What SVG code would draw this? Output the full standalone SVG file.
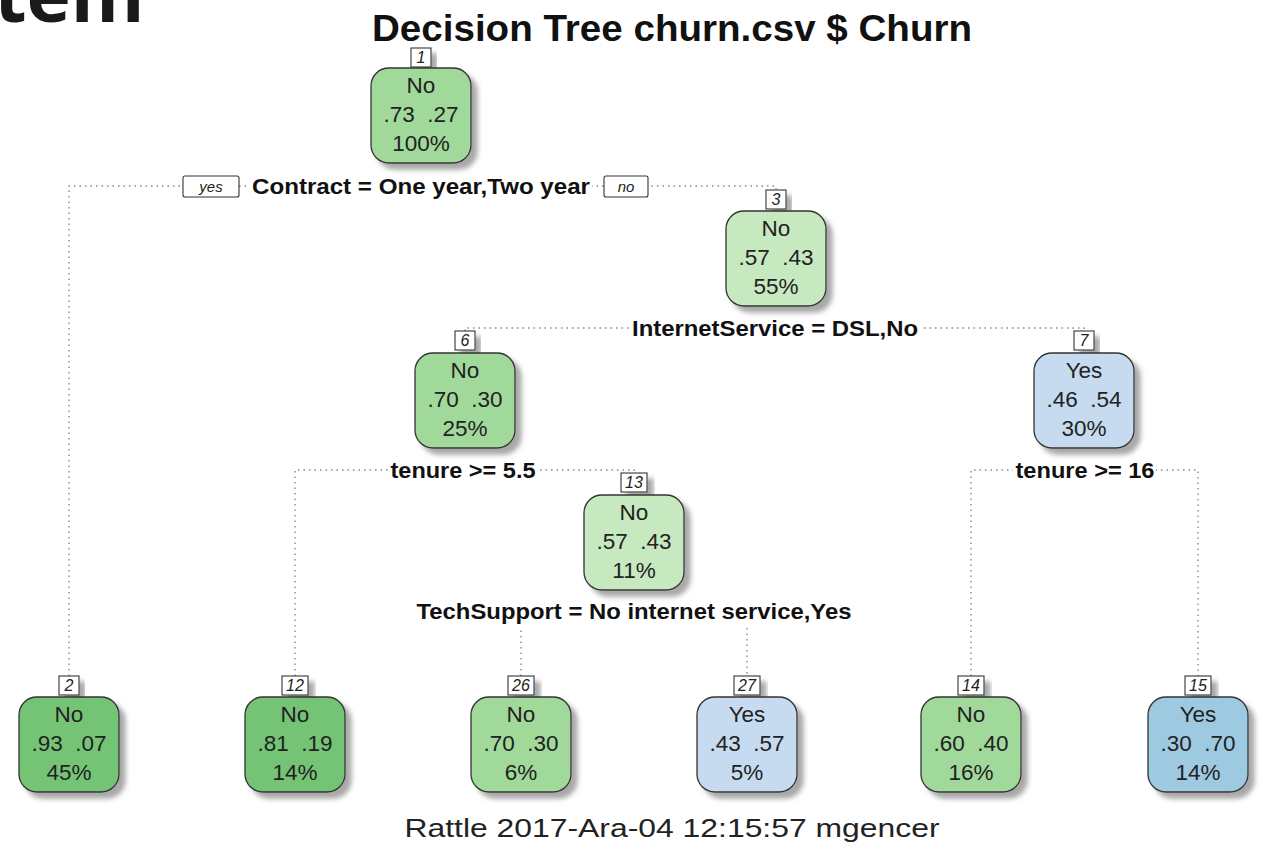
<svg xmlns="http://www.w3.org/2000/svg" width="1265" height="845" viewBox="0 0 1265 845">
<defs>
<filter id="sh" x="-20%" y="-20%" width="150%" height="150%">
<feDropShadow dx="6" dy="6" stdDeviation="2.5" flood-color="#8a8a8a" flood-opacity="0.75"/>
</filter>
<style>
.box{stroke:#333;stroke-width:1.3;filter:url(#sh)}
.lab{fill:#fff;stroke:#333;stroke-width:1.1;filter:url(#sh)}
.t{font-family:"Liberation Sans",Arial,sans-serif;font-size:22.5px;fill:#222;text-anchor:middle;white-space:pre}
.n{font-family:"Liberation Sans",Arial,sans-serif;font-style:italic;font-size:16px;fill:#222;text-anchor:middle}
.sp{font-family:"Liberation Sans",Arial,sans-serif;font-weight:bold;font-size:22px;fill:#111;text-anchor:middle}
.yn{font-family:"Liberation Sans",Arial,sans-serif;font-style:italic;font-size:15px;fill:#222;text-anchor:middle}
.ynb{fill:#fff;stroke:#333;stroke-width:1.1}
.edge{stroke:#888;stroke-width:1.4;stroke-dasharray:1.5 4;fill:none}
.bg{fill:#fff}
.g3{fill:#74c476}.g2{fill:#a1d99b}.g1{fill:#c7e9c0}.b1{fill:#c6dbef}.b2{fill:#9ecae1}
</style>
</defs>
<rect width="1265" height="845" fill="#fff"/>
<text x="-6" y="22" font-family="'Open Sans',sans-serif" font-weight="bold" font-size="75" fill="#1a1a1a">tem</text>
<text x="672" y="41" font-family="'Liberation Sans',Arial,sans-serif" font-weight="bold" font-size="37" fill="#111" text-anchor="middle" textLength="600" lengthAdjust="spacingAndGlyphs">Decision Tree churn.csv $ Churn</text>

<g id="connectors">
<path class="edge" d="M69,676 V186 H776 V189"/>
<path class="edge" d="M465,331 V328 H1084 V331"/>
<path class="edge" d="M295,676 V470 H634 V473"/>
<path class="edge" d="M971,676 V470 H1198 V676"/>
<path class="edge" d="M521,676 V611 H747 V676"/>
</g>

<g id="split-labels">
<rect class="bg" x="250" y="174" width="342" height="26"/>
<text class="sp" x="421" y="194" textLength="338" lengthAdjust="spacingAndGlyphs">Contract = One year,Two year</text>
<rect class="ynb" x="183" y="176" width="56" height="21" rx="2"/>
<text class="yn" x="211" y="192">yes</text>
<rect class="ynb" x="604" y="176" width="44" height="21" rx="2"/>
<text class="yn" x="626" y="192">no</text>
<rect class="bg" x="630" y="316" width="290" height="26"/>
<text class="sp" x="775" y="336" textLength="286" lengthAdjust="spacingAndGlyphs">InternetService = DSL,No</text>
<rect class="bg" x="388" y="458" width="149" height="26"/>
<text class="sp" x="463" y="478" textLength="145" lengthAdjust="spacingAndGlyphs">tenure &gt;= 5.5</text>
<rect class="bg" x="1013" y="458" width="143" height="26"/>
<text class="sp" x="1085" y="478" textLength="139" lengthAdjust="spacingAndGlyphs">tenure &gt;= 16</text>
<rect class="bg" x="410" y="597" width="447" height="31"/>
<text class="sp" x="634" y="619" textLength="435" lengthAdjust="spacingAndGlyphs">TechSupport = No internet service,Yes</text>
</g>

<g id="node1">
<rect class="lab" x="411" y="48" width="20" height="19"/><text class="n" x="421" y="63">1</text>
<rect class="box g2" x="371" y="68" width="100" height="95" rx="18"/>
<text class="t" x="421" y="93">No</text><text class="t" x="421" y="122">.73  .27</text><text class="t" x="421" y="151">100%</text>
</g>
<g id="node3">
<rect class="lab" x="766" y="190" width="20" height="19"/><text class="n" x="776" y="205">3</text>
<rect class="box g1" x="726" y="211" width="100" height="95" rx="18"/>
<text class="t" x="776" y="236">No</text><text class="t" x="776" y="265">.57  .43</text><text class="t" x="776" y="294">55%</text>
</g>
<g id="node6">
<rect class="lab" x="455" y="331" width="20" height="19"/><text class="n" x="465" y="346">6</text>
<rect class="box g2" x="415" y="353" width="100" height="95" rx="18"/>
<text class="t" x="465" y="378">No</text><text class="t" x="465" y="407">.70  .30</text><text class="t" x="465" y="436">25%</text>
</g>
<g id="node7">
<rect class="lab" x="1074" y="331" width="20" height="19"/><text class="n" x="1084" y="346">7</text>
<rect class="box b1" x="1034" y="353" width="100" height="95" rx="18"/>
<text class="t" x="1084" y="378">Yes</text><text class="t" x="1084" y="407">.46  .54</text><text class="t" x="1084" y="436">30%</text>
</g>
<g id="node13">
<rect class="lab" x="621" y="473" width="26" height="19"/><text class="n" x="634" y="488">13</text>
<rect class="box g1" x="584" y="495" width="100" height="95" rx="18"/>
<text class="t" x="634" y="520">No</text><text class="t" x="634" y="549">.57  .43</text><text class="t" x="634" y="578">11%</text>
</g>
<g id="node2">
<rect class="lab" x="59" y="676" width="20" height="19"/><text class="n" x="69" y="691">2</text>
<rect class="box g3" x="19" y="697" width="100" height="95" rx="18"/>
<text class="t" x="69" y="722">No</text><text class="t" x="69" y="751">.93  .07</text><text class="t" x="69" y="780">45%</text>
</g>
<g id="node12">
<rect class="lab" x="282" y="676" width="26" height="19"/><text class="n" x="295" y="691">12</text>
<rect class="box g3" x="245" y="697" width="100" height="95" rx="18"/>
<text class="t" x="295" y="722">No</text><text class="t" x="295" y="751">.81  .19</text><text class="t" x="295" y="780">14%</text>
</g>
<g id="node26">
<rect class="lab" x="508" y="676" width="26" height="19"/><text class="n" x="521" y="691">26</text>
<rect class="box g2" x="471" y="697" width="100" height="95" rx="18"/>
<text class="t" x="521" y="722">No</text><text class="t" x="521" y="751">.70  .30</text><text class="t" x="521" y="780">6%</text>
</g>
<g id="node27">
<rect class="lab" x="734" y="676" width="26" height="19"/><text class="n" x="747" y="691">27</text>
<rect class="box b1" x="697" y="697" width="100" height="95" rx="18"/>
<text class="t" x="747" y="722">Yes</text><text class="t" x="747" y="751">.43  .57</text><text class="t" x="747" y="780">5%</text>
</g>
<g id="node14">
<rect class="lab" x="958" y="676" width="26" height="19"/><text class="n" x="971" y="691">14</text>
<rect class="box g2" x="921" y="697" width="100" height="95" rx="18"/>
<text class="t" x="971" y="722">No</text><text class="t" x="971" y="751">.60  .40</text><text class="t" x="971" y="780">16%</text>
</g>
<g id="node15">
<rect class="lab" x="1185" y="676" width="26" height="19"/><text class="n" x="1198" y="691">15</text>
<rect class="box b2" x="1148" y="697" width="100" height="95" rx="18"/>
<text class="t" x="1198" y="722">Yes</text><text class="t" x="1198" y="751">.30  .70</text><text class="t" x="1198" y="780">14%</text>
</g>

<text x="672" y="837" font-family="'Liberation Sans',Arial,sans-serif" font-size="25" fill="#222" text-anchor="middle" textLength="535" lengthAdjust="spacingAndGlyphs">Rattle 2017-Ara-04 12:15:57 mgencer</text>
</svg>
